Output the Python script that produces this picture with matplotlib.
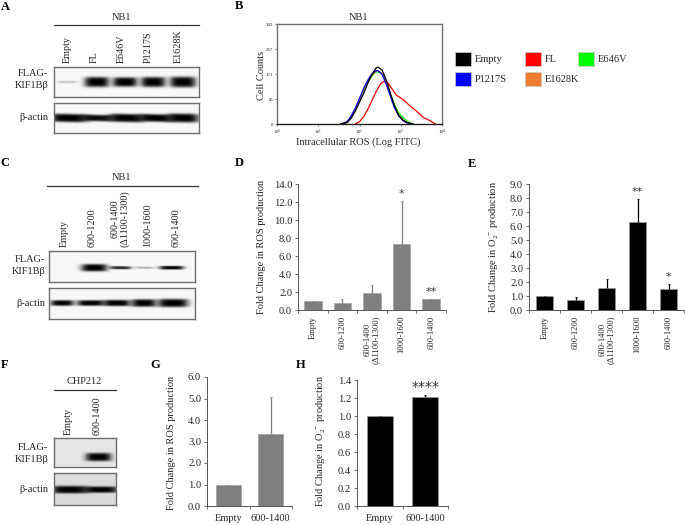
import numpy as np
import matplotlib
matplotlib.use('Agg')
import matplotlib.pyplot as plt
from matplotlib.patches import Rectangle

W, H = 685, 525

plt.rcParams['font.family'] = ['Liberation Serif', 'DejaVu Serif']
plt.rcParams['mathtext.fontset'] = 'custom'
plt.rcParams['mathtext.rm'] = 'Liberation Serif'
plt.rcParams['mathtext.it'] = 'Liberation Serif'
plt.rcParams['mathtext.bf'] = 'Liberation Serif:bold'

TEXT = '#262626'
FRAME = '#6e6e6e'

# flow cytometry curves, x is log10 FITC
hist_x = [1.55, 1.7, 1.8, 1.9, 2.0, 2.1, 2.2, 2.3, 2.4, 2.45, 2.55, 2.65, 2.75, 2.85, 2.95, 3.05, 3.15, 3.3]
hist_empty = [0, 5, 20, 45, 75, 105, 140, 170, 192, 195, 185, 150, 105, 62, 30, 14, 5, 0]
hist_p1217s = [0, 8, 28, 55, 88, 122, 150, 172, 183, 183, 170, 135, 95, 55, 28, 12, 4, 0]
hist_e646v = [0, 6, 24, 50, 80, 112, 142, 165, 178, 178, 172, 142, 102, 66, 38, 22, 10, 0]
hist_e1628k = [0, 6, 25, 52, 84, 116, 146, 168, 180, 182, 174, 144, 100, 60, 30, 14, 5, 0]
fl_x = [1.9, 2.0, 2.1, 2.2, 2.3, 2.4, 2.5, 2.58, 2.68, 2.8, 2.9, 3.05, 3.2, 3.35, 3.55, 3.7, 3.84]
hist_fl = [0, 8, 25, 50, 80, 110, 135, 146, 142, 118, 98, 85, 65, 48, 22, 12, 0]

hist_series = [
    ('#ff0000', fl_x, hist_fl),
    ('#00ff00', hist_x, hist_e646v),
    ('#ed7d31', hist_x, hist_e1628k),
    ('#0000ff', hist_x, hist_p1217s),
    ('black', hist_x, hist_empty),
]
hist_ticks = [0, 85, 171, 257, 343]

legend_names = ['Empty', 'FL', 'E646V', 'P1217S', 'E1628K']
legend_colors = ['black', '#ff0000', '#00ff00', '#0000ff', '#ed7d31']

# bar panels
d_labels = ['Empty', '600-1200', '600-1400\n(Δ1100-1300)', '1000-1600', '600-1400']
d_values = [1.0, 0.8, 1.9, 7.35, 1.2]
d_err = [0, 0.45, 0.85, 4.75, 0.05]
d_stars = ['', '', '', '*', '**']

e_values = [1.0, 0.75, 1.6, 6.3, 1.5]
e_err = [0, 0.2, 0.6, 1.6, 0.35]
e_stars = ['', '', '', '**', '*']

g_labels = ['Empty', '600-1400']
g_values = [1.0, 3.35]
g_err = [0, 1.7]

h_values = [1.0, 1.21]
h_err = [0, 0.02]
h_stars = ['', '****']

# blots: lane centre (fraction of box), half width, half height, darkness, slope
a_flag = [(0.09, 0.07, 0.04, 0.2, 0), (0.295, 0.085, 0.17, 1.0, 0), (0.49, 0.085, 0.16, 1.0, 0),
          (0.685, 0.085, 0.17, 1.0, 0), (0.89, 0.09, 0.18, 1.0, 0.04)]
a_actin = [(0.1, 0.13, 0.14, 1.0, 0.1), (0.3, 0.12, 0.11, 0.95, 0.1), (0.5, 0.12, 0.14, 1.0, 0.12),
           (0.7, 0.12, 0.13, 1.0, 0.12), (0.89, 0.11, 0.15, 1.0, 0.08)]
c_flag = [(0.31, 0.09, 0.12, 1.0, 0), (0.49, 0.075, 0.05, 0.85, 0.05),
          (0.655, 0.065, 0.035, 0.3, 0.05), (0.84, 0.085, 0.06, 1.0, 0)]
c_actin = [(0.09, 0.08, 0.09, 1.0, 0), (0.285, 0.095, 0.09, 1.0, 0), (0.465, 0.095, 0.1, 1.0, 0),
           (0.65, 0.085, 0.12, 1.0, 0), (0.85, 0.105, 0.13, 1.0, 0)]
f_flag = [(0.72, 0.21, 0.14, 1.0, 0)]
f_actin = [(0.25, 0.31, 0.12, 1.0, 0), (0.76, 0.28, 0.1, 1.0, 0)]

fig = plt.figure(figsize=(W / 100, H / 100), dpi=100)


def px_axes(x0, y0, x1, y1):
    return fig.add_axes([x0 / W, 1 - y1 / H, (x1 - x0) / W, (y1 - y0) / H])


def px_text(x, y, s, size=7.5, ha='center', va='center', **kw):
    kw.setdefault('color', TEXT)
    fig.text(x / W, 1 - y / H, s, fontsize=size, ha=ha, va=va, **kw)


def px_line(x0, x1, y, color='#333333', lw=0.9):
    fig.add_artist(plt.Line2D([x0 / W, x1 / W], [1 - y / H, 1 - y / H], color=color, lw=lw))


def blot(box, bands, bg=0.97, center=0.5):
    ax = px_axes(*box)
    nx, ny = int(box[2] - box[0]) * 3, int(box[3] - box[1]) * 3
    xs = np.linspace(0, 1, nx)[None, :]
    ys = np.linspace(0, 1, ny)[:, None]
    img = np.full((ny, nx), float(bg))
    for cx, hw, hh, dark, slope in bands:
        yc = center + slope * (xs - cx)
        prof = np.exp(-((xs - cx) / hw) ** 4) * np.exp(-((ys - yc) / hh) ** 4)
        img = img * (1 - dark * prof)
    ax.imshow(img, cmap='gray', vmin=0, vmax=1, aspect='auto', extent=[0, 1, 1, 0], interpolation='bilinear')
    ax.set_xticks([])
    ax.set_yticks([])
    for s in ax.spines.values():
        s.set_color(FRAME)
        s.set_linewidth(1.0)


def bars(box, values, err, ylim, step, color, width, tick_size=7.6):
    ax = px_axes(*box)
    pos = np.arange(len(values))
    ax.bar(pos, values, width=width, color=color, edgecolor='#9a9a9a', linewidth=0.4, zorder=2)
    ax.errorbar(pos, values, yerr=[np.zeros(len(err)), err], fmt='none', ecolor=color, elinewidth=0.9,
                capsize=0.8, capthick=0.6, zorder=1)
    ax.set_xlim(-0.5, len(values) - 0.5)
    ax.set_ylim(*ylim)
    ax.set_yticks(np.arange(ylim[0], ylim[1] + step / 2, step))
    ax.set_yticklabels(['%.1f' % v for v in ax.get_yticks()], fontsize=tick_size, color=TEXT)
    ax.set_xticks(np.arange(len(values) + 1) - 0.5)
    ax.set_xticklabels([])
    ax.tick_params(length=2.2, width=0.6, color='#555555', pad=2)
    for s in ('top', 'right'):
        ax.spines[s].set_visible(False)
    for s in ('left', 'bottom'):
        ax.spines[s].set_color('#555555')
        ax.spines[s].set_linewidth(0.7)
    ax.patch.set_alpha(0)
    return ax


def star_text(ax, idx, val, s, pad, size=8):
    if s:
        ax.annotate(s, (idx, val), xytext=(0, pad), textcoords='offset points', ha='center', va='center',
                    fontsize=size, color='#333333', annotation_clip=False, family='DejaVu Sans')


def rot_labels(ax, labels):
    for i, lab in enumerate(labels):
        ax.annotate(lab, (i, 0), xytext=(0, -4), textcoords='offset points', rotation=90, ha='center', va='top',
                    fontsize=6.2, color=TEXT, linespacing=1.0, multialignment='center')


def flat_labels(ax, labels):
    for i, lab in enumerate(labels):
        ax.annotate(lab, (i, 0), xytext=(0, -9), textcoords='offset points', ha='center', va='center',
                    fontsize=7.5, color=TEXT)


# panel letters
for x, y, s in [(5, 7, 'A'), (239, 6, 'B'), (5, 163, 'C'), (239, 163, 'D'), (472, 164, 'E'),
                (5, 365, 'F'), (155, 365, 'G'), (301, 365, 'H')]:
    px_text(x, y, s, size=9, fontweight='bold', color='black')

# A
px_text(121, 18, 'NB1')
px_line(54, 199, 25)
for x, s in zip([67, 94, 121, 148, 178], ['Empty', 'FL', 'E646V', 'P1217S', 'E1628K']):
    px_text(x, 63, s, size=7.3, rotation=90, va='bottom')
blot((54, 67, 199, 97), a_flag)
blot((54, 103, 199, 133), a_actin)
px_text(48, 74, 'FLAG-', ha='right')
px_text(48, 86, 'KIF1Bβ', ha='right')
px_text(48, 117, 'β-actin', ha='right')

# B
ax = px_axes(277, 24, 442, 124)
for color, xs, ys in hist_series:
    ax.plot(xs, ys, color=color, lw=0.9)
ax.set_xlim(0, 4)
ax.set_ylim(0, 343)
ax.set_xticks(range(5))
ax.set_xticklabels([f'$10^{i}$' for i in range(5)], fontsize=3.5, color=TEXT)
ax.set_yticks(hist_ticks)
ax.set_yticklabels(hist_ticks, fontsize=3.5, color=TEXT)
ax.tick_params(length=1.5, width=0.5, pad=1, color='#555555')
for s in ax.spines.values():
    s.set_color(FRAME)
    s.set_linewidth(1.0)
ax.spines['bottom'].set_color('#222222')
px_text(358, 17, 'NB1')
px_text(358, 142, 'Intracellular ROS (Log FITC)')
px_text(261, 75, 'Cell Counts', rotation=90)

leg_x = [455, 525, 578, 455, 525]
leg_y = [52, 52, 52, 72, 72]
for x, y, name, col in zip(leg_x, leg_y, legend_names, legend_colors):
    fig.add_artist(Rectangle((x / W, 1 - (y + 14) / H), 16 / W, 14 / H, transform=fig.transFigure,
                             facecolor=col, edgecolor='#cccccc', linewidth=0.5))
    px_text(x + 20, y + 7, name, ha='left')

# C
px_text(122, 178, 'NB1')
px_line(47, 198, 186)
for x, s in zip([64, 92, 148, 176], ['Empty', '600-1200', '1000-1600', '600-1400']):
    px_text(x, 247, s, size=7.3, rotation=90, va='bottom')
px_text(120, 247, '600-1400\n(Δ1100-1300)', size=7.3, rotation=90, va='bottom', linespacing=1.0,
        ha='center', multialignment='center')
blot((49, 251, 195, 282), c_flag, center=0.54)
blot((49, 288, 195, 319), c_actin)
px_text(45, 260, 'FLAG-', ha='right')
px_text(45, 272, 'KIF1Bβ', ha='right')
px_text(45, 303, 'β-actin', ha='right')

# D
ax = bars((298, 184, 446, 310), d_values, d_err, (0, 14), 2, '#7f7f7f', 0.6)
rot_labels(ax, d_labels)
for i, s in enumerate(d_stars):
    star_text(ax, i, d_values[i] + d_err[i], s, 5)
px_text(261, 247, 'Fold Change in ROS production', rotation=90)

# E
ax = bars((529, 184, 684, 310), e_values, e_err, (0, 9), 1, 'black', 0.55)
rot_labels(ax, d_labels)
for i, s in enumerate(e_stars):
    star_text(ax, i, e_values[i] + e_err[i], s, 5)
px_text(494, 247, 'Fold Change in O$_2^{\\cdot-}$ production', rotation=90)

# F
px_text(84, 382, 'CHP212')
px_line(54, 116, 390)
px_text(68, 435, 'Empty', size=7.3, rotation=90, va='bottom')
px_text(97, 435, '600-1400', size=7.3, rotation=90, va='bottom')
blot((54, 438, 116, 467), f_flag, bg=0.9, center=0.67)
blot((54, 473, 116, 505), f_actin, bg=0.86, center=0.52)
px_text(48, 447, 'FLAG-', ha='right')
px_text(48, 460, 'KIF1Bβ', ha='right')
px_text(48, 490, 'β-actin', ha='right')

# G
ax = bars((207, 377, 292, 506), g_values, g_err, (0, 6), 1, '#7f7f7f', 0.58)
flat_labels(ax, g_labels)
px_text(172, 443, 'Fold Change in ROS production', rotation=90)

# H
ax = bars((357, 380, 448, 506), h_values, h_err, (0, 1.4), 0.2, 'black', 0.57)
flat_labels(ax, g_labels)
for i, s in enumerate(h_stars):
    star_text(ax, i, h_values[i] + h_err[i], s, 6, size=10)
px_text(321, 441, 'Fold Change in O$_2^{\\cdot-}$ production', rotation=90)

fig.savefig('out.png', dpi=100)
